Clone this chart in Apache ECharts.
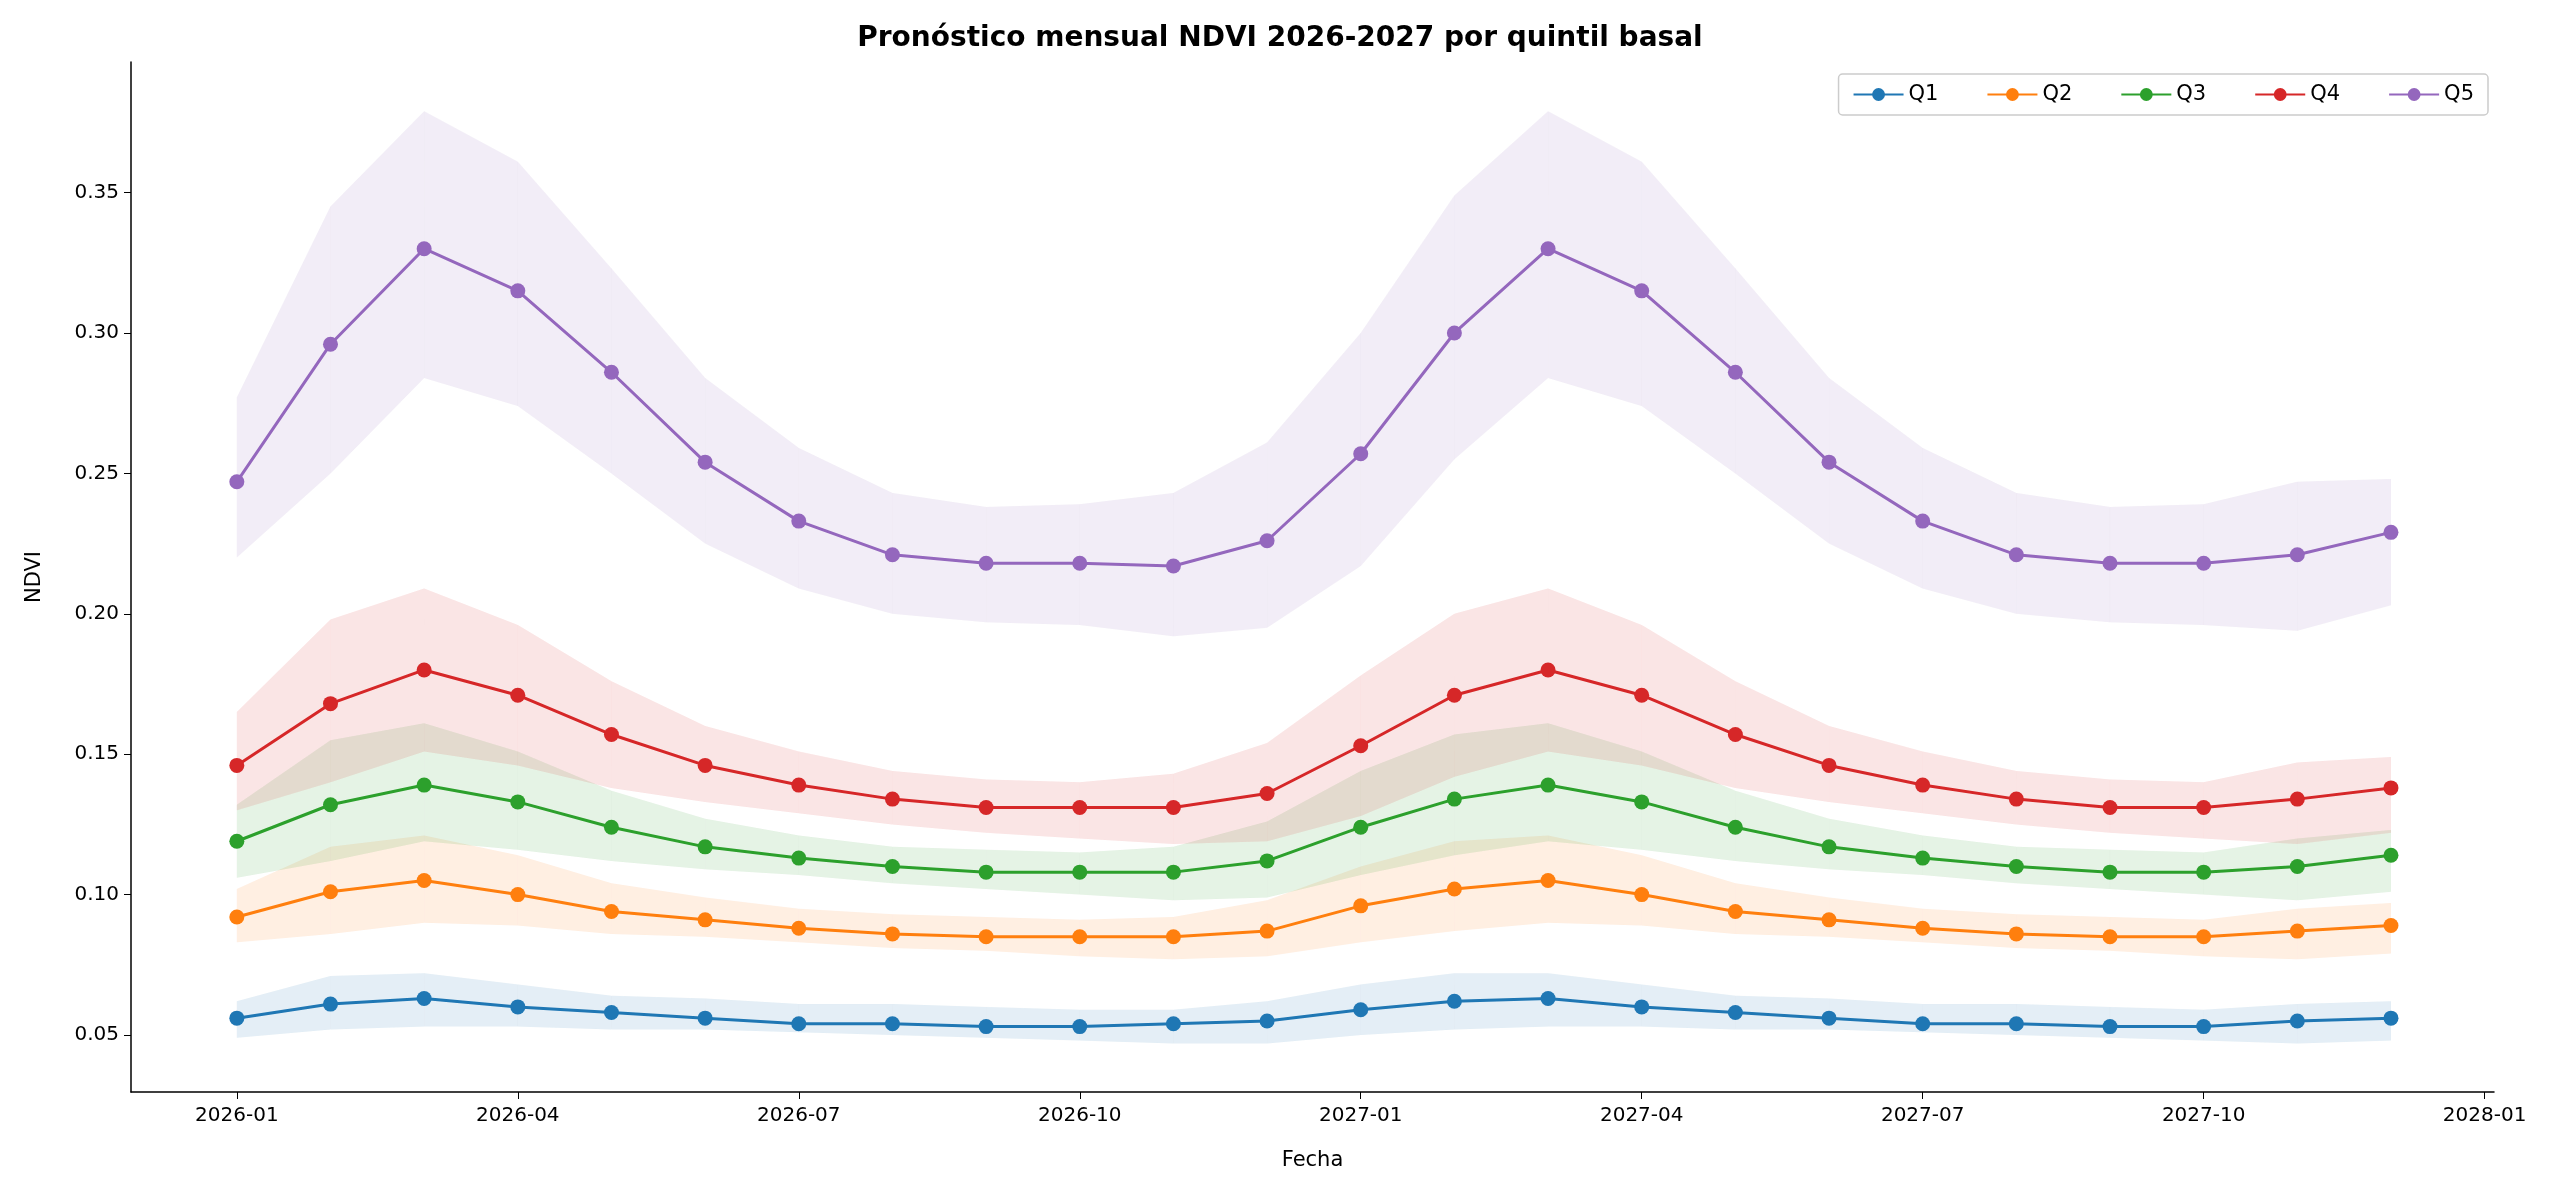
<!DOCTYPE html>
<html><head><meta charset="utf-8">
<script src="https://cdn.jsdelivr.net/npm/echarts@6/dist/echarts.min.js"></script>
<style>html,body{margin:0;background:#fff}#main{width:2560px;height:1195px}</style>
</head><body><div id="main"></div>
<script>
// meses 2026-01 .. 2027-12
const months = [];
for (let y = 2026; y <= 2027; y++) for (let m = 1; m <= 12; m++) months.push(y + '-' + String(m).padStart(2, '0'));
const tickLabels = ['2026-01','2026-04','2026-07','2026-10','2027-01','2027-04','2027-07','2027-10','2028-01'];

const q1 = [0.056,0.061,0.063,0.060,0.058,0.056,0.054,0.054,0.053,0.053,0.054,0.055,0.059,0.062,0.063,0.060,0.058,0.056,0.054,0.054,0.053,0.053,0.055,0.056];
const q1Hi = [0.062,0.071,0.072,0.068,0.064,0.063,0.061,0.061,0.060,0.059,0.059,0.062,0.068,0.072,0.072,0.068,0.064,0.063,0.061,0.061,0.060,0.059,0.061,0.062];
const q1Lo = [0.049,0.052,0.053,0.053,0.052,0.052,0.051,0.050,0.049,0.048,0.047,0.047,0.050,0.052,0.053,0.053,0.052,0.052,0.051,0.050,0.049,0.048,0.047,0.048];
const q2 = [0.092,0.101,0.105,0.100,0.094,0.091,0.088,0.086,0.085,0.085,0.085,0.087,0.096,0.102,0.105,0.100,0.094,0.091,0.088,0.086,0.085,0.085,0.087,0.089];
const q2Hi = [0.102,0.117,0.121,0.114,0.104,0.099,0.095,0.093,0.092,0.091,0.092,0.098,0.110,0.119,0.121,0.114,0.104,0.099,0.095,0.093,0.092,0.091,0.095,0.097];
const q2Lo = [0.083,0.086,0.090,0.089,0.086,0.085,0.083,0.081,0.080,0.078,0.077,0.078,0.083,0.087,0.090,0.089,0.086,0.085,0.083,0.081,0.080,0.078,0.077,0.079];
const q3 = [0.119,0.132,0.139,0.133,0.124,0.117,0.113,0.110,0.108,0.108,0.108,0.112,0.124,0.134,0.139,0.133,0.124,0.117,0.113,0.110,0.108,0.108,0.110,0.114];
const q3Hi = [0.132,0.155,0.161,0.151,0.137,0.127,0.121,0.117,0.116,0.115,0.117,0.126,0.144,0.157,0.161,0.151,0.137,0.127,0.121,0.117,0.116,0.115,0.120,0.123];
const q3Lo = [0.106,0.112,0.119,0.116,0.112,0.109,0.107,0.104,0.102,0.100,0.098,0.099,0.107,0.114,0.119,0.116,0.112,0.109,0.107,0.104,0.102,0.100,0.098,0.101];
const q4 = [0.146,0.168,0.180,0.171,0.157,0.146,0.139,0.134,0.131,0.131,0.131,0.136,0.153,0.171,0.180,0.171,0.157,0.146,0.139,0.134,0.131,0.131,0.134,0.138];
const q4Hi = [0.165,0.198,0.209,0.196,0.176,0.160,0.151,0.144,0.141,0.140,0.143,0.154,0.178,0.200,0.209,0.196,0.176,0.160,0.151,0.144,0.141,0.140,0.147,0.149];
const q4Lo = [0.130,0.140,0.151,0.146,0.138,0.133,0.129,0.125,0.122,0.120,0.118,0.119,0.128,0.142,0.151,0.146,0.138,0.133,0.129,0.125,0.122,0.120,0.118,0.122];
const q5 = [0.247,0.296,0.330,0.315,0.286,0.254,0.233,0.221,0.218,0.218,0.217,0.226,0.257,0.300,0.330,0.315,0.286,0.254,0.233,0.221,0.218,0.218,0.221,0.229];
const q5Hi = [0.277,0.345,0.379,0.361,0.323,0.284,0.259,0.243,0.238,0.239,0.243,0.261,0.300,0.349,0.379,0.361,0.323,0.284,0.259,0.243,0.238,0.239,0.247,0.248];
const q5Lo = [0.220,0.250,0.284,0.274,0.250,0.225,0.209,0.200,0.197,0.196,0.192,0.195,0.217,0.255,0.284,0.274,0.250,0.225,0.209,0.200,0.197,0.196,0.194,0.203];

const names = ['Q1','Q2','Q3','Q4','Q5'];
const colors = ['#1f77b4','#ff7f0e','#2ca02c','#d62728','#9467bd'];
const mids = [q1,q2,q3,q4,q5], his = [q1Hi,q2Hi,q3Hi,q4Hi,q5Hi], los = [q1Lo,q2Lo,q3Lo,q4Lo,q5Lo];

const series = [];
names.forEach((n, k) => {
  const lo = los[k], hi = his[k];
  series.push({
    type:'custom', silent:true, z:1,
    data: lo.map((v,i)=>[i, v, hi[i]]),
    renderItem: (params, api) => {
      const i = params.dataIndex;
      if (i >= lo.length - 1) return null;
      const pts = [api.coord([i, lo[i]]), api.coord([i+1, lo[i+1]]), api.coord([i+1, hi[i+1]]), api.coord([i, hi[i]])];
      return {type:'polygon', shape:{points:pts}, style:{fill:colors[k], opacity:0.12, stroke:colors[k], lineWidth:0.5, strokeOpacity:0.12}};
    }
  });
});
names.forEach((n, k) => {
  series.push({type:'line', name:n, data: mids[k].map((v,i)=>[i,v]), color:colors[k], symbol:'circle', symbolSize:15, lineStyle:{width:3}, z:3});
});

const chart = echarts.init(document.getElementById('main'));
chart.setOption({
  animation:false,
  textStyle:{fontFamily:'DejaVu Sans'},
  title:{text:'Pronóstico mensual NDVI 2026-2027 por quintil basal', left:'center', top:20, textStyle:{fontSize:28, fontWeight:'bold', color:'#000'}},
  legend:{data:names, right:72, top:74, itemGap:48, itemWidth:50, itemHeight:16, borderColor:'#ccc', borderWidth:1.5, borderRadius:4, padding:[10,14], textStyle:{fontSize:21, color:'#000'}},
  grid:{left:131, right:66, top:62, bottom:103},
  xAxis:{type:'value', min:-1.13, max:24.1, name:'Fecha', nameLocation:'middle', nameGap:58, nameTextStyle:{fontSize:21, color:'#000'},
    splitLine:{show:false}, axisLine:{onZero:false, lineStyle:{color:'#000', width:1.5}},
    axisTick:{customValues:[0,3,6,9,12,15,18,21,24], length:7, lineStyle:{color:'#000'}},
    axisLabel:{customValues:[0,3,6,9,12,15,18,21,24], fontSize:20, color:'#000', margin:14, formatter:v=>tickLabels[Math.round(v/3)]}},
  yAxis:{type:'value', min:0.0297, max:0.3965, name:'NDVI', nameLocation:'middle', nameGap:86, nameTextStyle:{fontSize:21, color:'#000'},
    splitLine:{show:false}, axisLine:{show:true, onZero:false, lineStyle:{color:'#000', width:1.5}},
    axisTick:{show:true, customValues:[0.05,0.1,0.15,0.2,0.25,0.3,0.35], length:7, lineStyle:{color:'#000'}},
    axisLabel:{customValues:[0.05,0.1,0.15,0.2,0.25,0.3,0.35], fontSize:20, color:'#000', margin:12, formatter:v=>v.toFixed(2)}},
  series
});
</script></body></html>
